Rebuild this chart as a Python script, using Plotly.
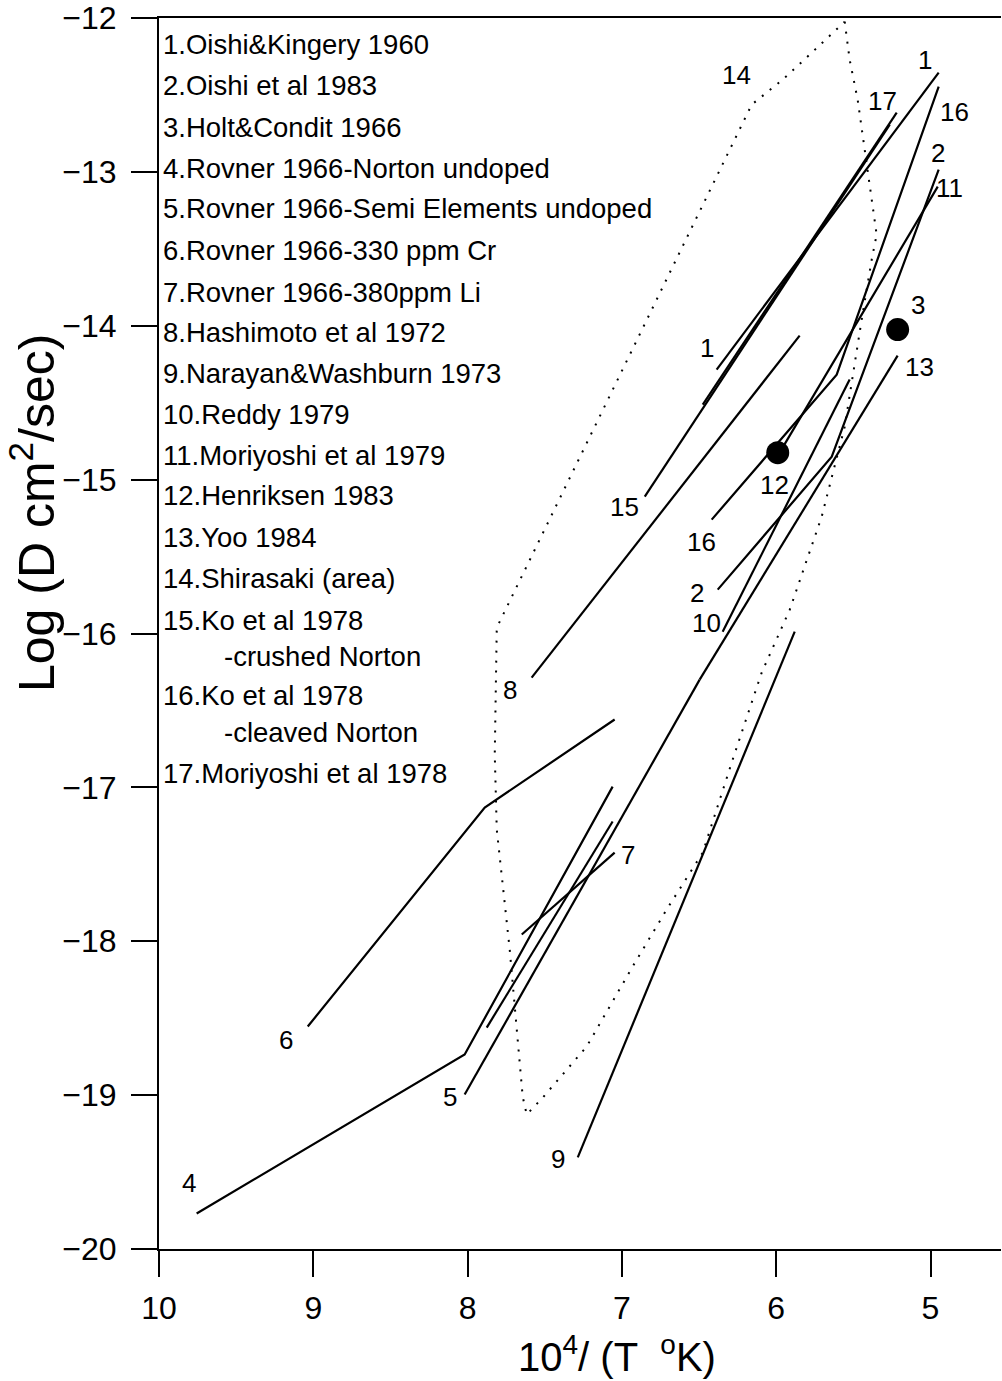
import plotly.graph_objects as go

# ---------------- data (x = 10^4/T, y = log D) ----------------
line1_x = [6.386, 4.947]
line1_y = [-14.285, -12.355]
line2_x = [6.379, 5.640, 4.947]
line2_y = [-15.715, -14.851, -12.986]
pt3_x = [5.213]
pt3_y = [-14.025]
line4_x = [9.756, 8.537, 8.019, 7.060]
line4_y = [-19.769, -19.042, -18.736, -16.995]
line5_x = [8.019, 6.496]
line5_y = [-18.996, -16.300]
line6_x = [9.036, 7.889, 7.047]
line6_y = [-18.554, -17.131, -16.559]
line7a_x = [7.649, 7.047]
line7a_y = [-17.956, -17.424]
line7b_x = [7.876, 7.060]
line7b_y = [-18.561, -17.222]
line8_x = [7.585, 5.848]
line8_y = [-16.287, -14.064]
line9_x = [7.286, 5.880]
line9_y = [-19.405, -15.988]
line10_x = [6.347, 5.524]
line10_y = [-15.988, -14.350]
line11_x = [5.951, 4.953]
line11_y = [-14.779, -13.096]
pt12_x = [5.990]
pt12_y = [-14.825]
line13_x = [6.496, 5.213]
line13_y = [-16.300, -14.194]
area14_x = [5.556, 5.524, 5.472, 5.426, 5.381, 5.349, 5.381, 5.446, 5.556, 5.705,
            5.912, 6.094, 6.282, 6.476, 6.710, 6.930, 7.228, 7.513, 7.617, 7.643,
            7.727, 7.811, 7.824, 7.811, 6.159, 5.958, 5.783, 5.556]
area14_y = [-12.024, -12.271, -12.531, -12.856, -13.181, -13.408, -13.570, -13.960, -14.656, -15.240,
            -15.845, -16.254, -16.819, -17.424, -17.794, -18.164, -18.684, -19.016, -19.126, -19.010,
            -18.054, -17.274, -16.787, -15.962, -12.563, -12.401, -12.238, -12.024]
line15_x = [6.852, 5.264]
line15_y = [-15.110, -12.693]
line16_x = [6.418, 5.608, 4.947]
line16_y = [-15.260, -14.318, -12.446]
line17_x = [6.476, 5.219]
line17_y = [-14.513, -12.615]

x_ticks = [10, 9, 8, 7, 6, 5]
y_ticks = [-12, -13, -14, -15, -16, -17, -18, -19, -20]

legend_lines = [
    "1.Oishi&Kingery 1960", "2.Oishi et al 1983", "3.Holt&Condit 1966",
    "4.Rovner 1966-Norton undoped", "5.Rovner 1966-Semi Elements undoped",
    "6.Rovner 1966-330 ppm Cr", "7.Rovner 1966-380ppm Li", "8.Hashimoto et al 1972",
    "9.Narayan&Washburn 1973", "10.Reddy 1979", "11.Moriyoshi et al 1979",
    "12.Henriksen 1983", "13.Yoo 1984", "14.Shirasaki (area)", "15.Ko et al 1978",
    "-crushed Norton", "16.Ko et al 1978", "-cleaved Norton", "17.Moriyoshi et al 1978",
]
legend_ypix = [45, 86, 127, 168, 209, 250, 292, 333, 373, 414, 455, 496, 537, 578,
               620, 656, 696, 733, 773]
legend_xpix = [161] * 15 + [222, 161, 222, 161]

label_text = ["14", "17", "1", "16", "2", "11", "3", "13", "1", "12", "15", "16",
              "2", "10", "8", "7", "6", "5", "9", "4"]
label_x = [6.256, 5.310, 5.038, 4.843, 4.953, 4.876, 5.083, 5.070, 6.450, 6.010,
           6.982, 6.483, 6.515, 6.450, 7.727, 6.962, 9.179, 8.116, 7.416, 9.808]
label_y = [-12.368, -12.537, -12.271, -12.609, -12.875, -13.103, -13.863, -14.266,
           -14.142, -15.032, -15.175, -15.403, -15.734, -15.929, -16.365, -17.437,
           -18.639, -19.014, -19.417, -19.568]

# ---------------- figure ----------------
W, H = 1002, 1381
ML, MR, MT, MB = 159, 1, 18, 132

def paper_x(p):
    return (p - ML) / (W - ML - MR)

def paper_y(p):
    return (H - MB - p) / (H - MT - MB)

FONT = "Liberation Sans, Arial, Helvetica, sans-serif"

fig = go.Figure()

lines = [
    (line1_x, line1_y), (line2_x, line2_y), (line4_x, line4_y), (line5_x, line5_y),
    (line6_x, line6_y), (line7a_x, line7a_y), (line7b_x, line7b_y), (line8_x, line8_y),
    (line9_x, line9_y), (line10_x, line10_y), (line11_x, line11_y), (line13_x, line13_y),
    (line15_x, line15_y), (line16_x, line16_y), (line17_x, line17_y),
]
for xs, ys in lines:
    fig.add_trace(go.Scatter(x=xs, y=ys, mode="lines",
                             line=dict(color="black", width=2.2), showlegend=False,
                             hoverinfo="skip"))

fig.add_trace(go.Scatter(x=area14_x, y=area14_y, mode="lines",
                         line=dict(color="black", width=2, dash="2px,8px"),
                         showlegend=False, hoverinfo="skip"))

for xs, ys in [(pt3_x, pt3_y), (pt12_x, pt12_y)]:
    fig.add_trace(go.Scatter(x=xs, y=ys, mode="markers",
                             marker=dict(color="black", size=23), showlegend=False,
                             hoverinfo="skip"))

annotations = []
for t, xp, yp in zip(legend_lines, legend_xpix, legend_ypix):
    annotations.append(dict(text=t, xref="paper", yref="paper", x=paper_x(xp), y=paper_y(yp),
                            xanchor="left", yanchor="middle", showarrow=False,
                            font=dict(family=FONT, size=27.5, color="black")))
for t, xv, yv in zip(label_text, label_x, label_y):
    annotations.append(dict(text=t, xref="x", yref="y", x=xv, y=yv,
                            xanchor="center", yanchor="middle", showarrow=False,
                            font=dict(family=FONT, size=26, color="black")))

annotations.append(dict(text="10<sup>4</sup>/ (T\u00a0\u00a0<sup>o</sup>K)", xref="paper", yref="paper",
                        x=paper_x(617), y=paper_y(1354), xanchor="center", yanchor="middle",
                        showarrow=False, font=dict(family=FONT, size=40, color="black")))
annotations.append(dict(text="Log (D\u00a0cm<sup>2</sup>/sec)", xref="paper", yref="paper",
                        x=paper_x(33), y=paper_y(513), xanchor="center", yanchor="middle",
                        textangle=-90, showarrow=False,
                        font=dict(family=FONT, size=50, color="black")))

fig.update_layout(
    template="none",
    width=W, height=H,
    margin=dict(l=ML, r=MR, t=MT, b=MB, pad=0, autoexpand=False),
    paper_bgcolor="white", plot_bgcolor="white",
    annotations=annotations,
    showlegend=False,
    xaxis=dict(range=[10, 10 - (W - ML - MR) / 154.3], tickvals=x_ticks,
               ticktext=[str(v) for v in x_ticks], automargin=False,
               ticks="outside", ticklen=26, tickwidth=2, tickcolor="black",
               showline=True, linewidth=2, linecolor="black", mirror=True,
               showgrid=False, zeroline=False, ticklabelstandoff=4,
               ticklabeloverflow="allow",
               tickfont=dict(family=FONT, size=32, color="black")),
    yaxis=dict(range=[-20, -12], tickvals=y_ticks, automargin=False,
               ticks="outside", ticklen=26, tickwidth=2, tickcolor="black",
               showline=True, linewidth=2, linecolor="black", mirror=False,
               showgrid=False, zeroline=False, ticklabelstandoff=8,
               ticklabeloverflow="allow",
               tickfont=dict(family=FONT, size=32, color="black")),
)

fig.write_html("out.html",
               config={"displayModeBar": False, "responsive": False},
               post_script="document.body.style.margin='0';document.body.style.padding='0';")
